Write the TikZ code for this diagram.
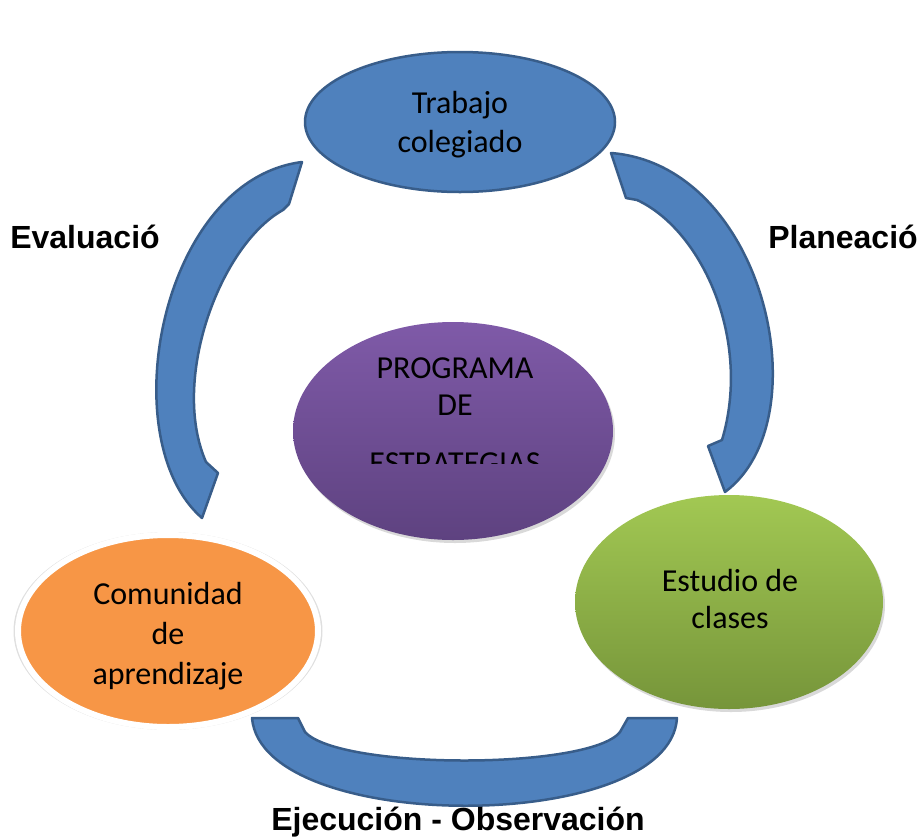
\documentclass[tikz,border=0pt]{standalone}
\usepackage{fontspec}
\setmainfont{Carlito}
\newfontfamily\labelfont{Liberation Sans}
\usetikzlibrary{shapes.geometric,shadows}

\definecolor{bandblue}{HTML}{4F81BD}
\definecolor{bandline}{HTML}{385D8A}
\definecolor{progtop}{HTML}{7F5AA8}
\definecolor{progbot}{HTML}{5E4280}
\definecolor{studytop}{HTML}{A2C853}
\definecolor{studybot}{HTML}{76953A}
\definecolor{commorange}{HTML}{F79646}

\begin{document}
\begin{tikzpicture}[x=1pt,y=-1pt,
    circ/.style={shape=ellipse, inner sep=0pt, align=center, font=\fontsize{32}{39}\selectfont},
    band/.style={fill=bandblue, draw=bandline, line width=2.5pt, line join=round},
    steplabel/.style={font=\labelfont\bfseries\fontsize{32}{38}\selectfont}]
    \useasboundingbox (0,0) rectangle (919,839);

    % the four ellipses
    \node[circ, fill=bandblue, draw=bandline, line width=2.5pt, minimum width=310, minimum height=140] (T) at (460,122) {};
    \node[circ] (Ttext) at (460,125) {Trabajo\\colegiado};
    \node[circ, top color=progtop, bottom color=progbot, drop shadow={opacity=0.3, shadow xshift=2pt, shadow yshift=-3pt}, minimum width=320, minimum height=218] (P) at (453,431) {};
    \node[circ, fill=commorange, draw=white, line width=6pt, drop shadow={opacity=0.25, shadow xshift=0pt, shadow yshift=0pt, shadow scale=1.03}, minimum width=300, minimum height=192] (C) at (168,631) {};
    \node[circ, font=\fontsize{32}{40}\selectfont] (Ctext) at (168,636) {Comunidad\\de\\aprendizaje};
    \node[circ, top color=studytop, bottom color=studybot, drop shadow={opacity=0.3, shadow xshift=2pt, shadow yshift=-3pt}, minimum width=308, minimum height=214] (S) at (729,602) {};
    \node[circ, font=\fontsize{32}{37}\selectfont] (Stext) at (730,599) {Estudio de\\clases};

    \begin{scope}
        \clip (300,330) rectangle (610,463);
        \node[circ, anchor=north, font=\fontsize{32}{37}\selectfont] (Ptext) at (455,334) {PROGRAMA\\DE\\[21pt]ESTRATEGIAS};
    \end{scope}

    % block arcs
    \draw[band] (302,162) -- (289,204) -- (283,210) .. controls (220,245) and (170,380) .. (206,462) -- (218,473) -- (202,518) .. controls (112,440) and (160,180) .. cycle;
    \draw[band] (611,153) -- (626,198) -- (637,200) .. controls (702,230) and (752,340) .. (722,440) -- (708,446) -- (725,492) .. controls (822,420) and (765,165) .. cycle;
    \draw[band] (252,718) -- (298,718) -- (305,732) .. controls (340,770) and (590,770) .. (620,732) -- (628,718) -- (677,718) .. controls (670,835) and (262,835) .. cycle;

    % labels
    \node[steplabel] (eval) at (85,237) {Evaluació};
    \node[steplabel] (plan) at (843,237) {Planeació};
    \node[steplabel] (ejec) at (458,822) {Ejecución - Observación};

\end{tikzpicture}
\end{document}
